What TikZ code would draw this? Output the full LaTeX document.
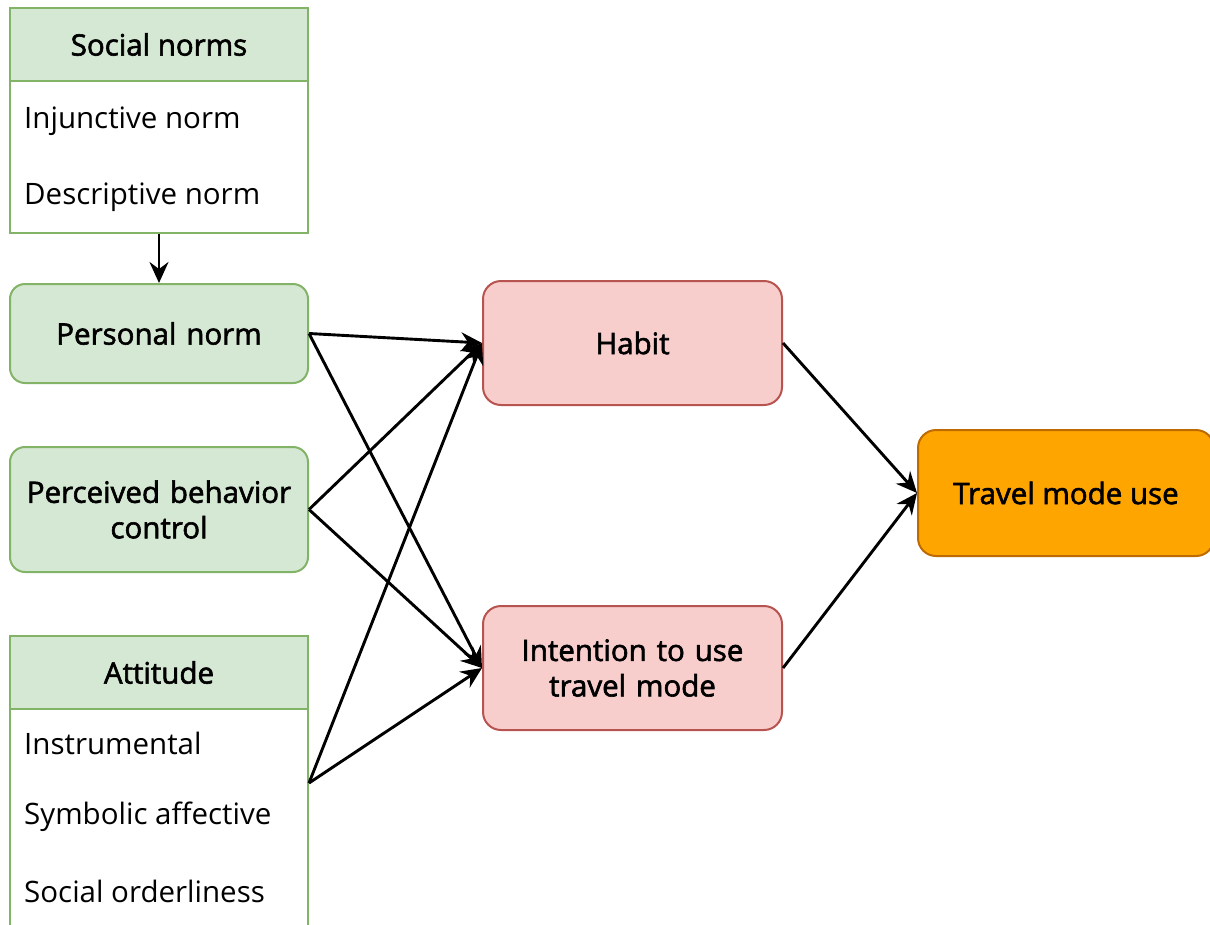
\documentclass[tikz,border=0pt]{standalone}
\usepackage{fontspec}
\setmainfont{Open Sans}
\newfontfamily\medfont[FakeBold=2]{Open Sans}
\usepackage{xcolor}
\usetikzlibrary{arrows.meta,positioning}

\definecolor{grfill}{HTML}{D5E8D4}
\definecolor{grline}{HTML}{82B366}
\definecolor{rdfill}{HTML}{F8CECC}
\definecolor{rdline}{HTML}{B85450}
\definecolor{orfill}{HTML}{FFA500}
\definecolor{orline}{HTML}{BD6A00}

\begin{document}
\begin{tikzpicture}[
		x=1pt, y=-1pt,
		node distance=62pt,
		factor/.style={rectangle, draw=grline, fill=grfill, line width=2pt, rounded corners=15pt, minimum width=298pt, text width=290pt, align=center, font=\fontsize{29.5}{35.5}\selectfont\medfont, inner sep=0pt},
		listbox/.style={rectangle, draw=grline, fill=white, line width=2pt, minimum width=298pt, inner sep=0pt},
		header/.style={rectangle, draw=grline, fill=grfill, line width=2pt, minimum width=298pt, minimum height=73pt, font=\fontsize{29.5}{35.5}\selectfont\medfont, inner sep=0pt},
		item/.style={anchor=west, inner sep=0pt, font=\fontsize{29.5}{35.5}\selectfont},
		outcome/.style={rectangle, draw=rdline, fill=rdfill, line width=2pt, rounded corners=18pt, minimum width=299pt, minimum height=124pt, text width=290pt, align=center, font=\fontsize{29.5}{35.5}\selectfont\medfont, inner sep=0pt},
		arrow/.style={-{Stealth[length=21pt, width=19pt, inset=7pt]}, line width=2.9pt}
		]
		\useasboundingbox (0,0) rectangle (1210,924);
		\clip (0,0) rectangle (1210,924);

		% Left column
		\node[listbox, minimum height=225pt] (social) at (159,120.5) {};
		\node[header, anchor=north] (socialhd) at (social.north) {Social norms};
		\node[item] (injunctive) at (24,121) {Injunctive norm};
		\node[item] (descriptive) at (24,197) {Descriptive norm};
		\node[factor, minimum height=99pt, below=49pt of social] (personal) {Personal norm};
		\node[factor, minimum height=125pt, below=of personal] (pbc) {Perceived behavior\\control};
		\node[listbox, minimum height=294pt, below=of pbc] (attitude) {};
		\node[header, anchor=north] (attitudehd) at (attitude.north) {Attitude};
		\node[item] (instrumental) at (24,743) {Instrumental};
		\node[item] (symbolic) at (24,817) {Symbolic affective};
		\node[item] (orderliness) at (24,891) {Social orderliness};

		% Middle and right
		\node[outcome] (habit) at (632.5,343) {Habit};
		\node[outcome, below=199pt of habit] (intention) {Intention to use\\travel mode};
		\node[rectangle, draw=orline, fill=orfill, line width=2pt, rounded corners=18pt, minimum width=296pt, minimum height=126pt, font=\fontsize{29.5}{35.5}\selectfont\medfont, inner sep=0pt] (travel) at (1066,493) {Travel mode use};

		% Arrows
		\draw[arrow] (social) -- (personal);
		\draw[arrow] (personal.east) -- (habit.west);
		\draw[arrow] (personal.east) -- (intention.west);
		\draw[arrow] (pbc.east) -- (habit.west);
		\draw[arrow] (pbc.east) -- (intention.west);
		\draw[arrow] (attitude.east) -- (habit.west);
		\draw[arrow] (attitude.east) -- (intention.west);
		\draw[arrow] (habit.east) -- (travel.west);
		\draw[arrow] (intention.east) -- (travel.west);

	\end{tikzpicture}
\end{document}
